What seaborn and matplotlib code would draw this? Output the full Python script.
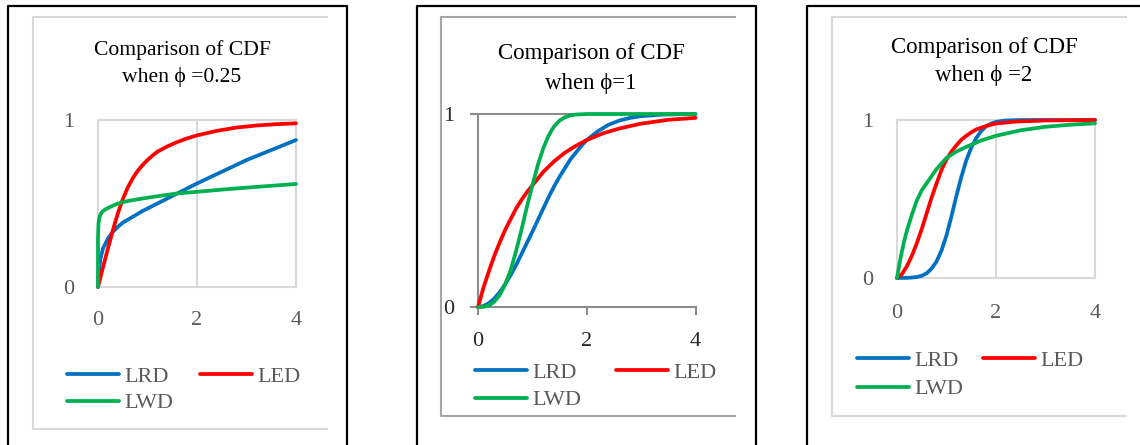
import numpy as np
import pandas as pd
import matplotlib
matplotlib.use("Agg")
import matplotlib.pyplot as plt
import seaborn as sns
from matplotlib.lines import Line2D

# ---------------- data ----------------
series_names = ["LRD", "LED", "LWD"]
series_colors = {"LRD": "#0070C0", "LED": "#FF0000", "LWD": "#00B050"}
x_ticks = [0, 2, 4]
y_ticks = [0, 1]
titles = ["Comparison of CDF\nwhen \u03d5 =0.25",
          "Comparison of CDF\nwhen \u03d5=1",
          "Comparison of CDF\nwhen \u03d5 =2"]

# Panel 1 : phi = 0.25
p1_lrd_x = [0, 0.01, 0.02, 0.05, 0.1, 0.2, 0.3, 0.4, 0.5, 0.7, 0.9, 1.2, 1.6, 2.0, 2.5, 3.0, 3.5, 4.0]
p1_lrd_y = [0, 0.07, 0.10, 0.17, 0.23, 0.29, 0.33, 0.36, 0.385, 0.42, 0.455, 0.50, 0.56, 0.62, 0.69, 0.76, 0.82, 0.88]
p1_led_x = [0, 0.1, 0.2, 0.3, 0.4, 0.5, 0.6, 0.7, 0.8, 0.9, 1.0, 1.1, 1.2, 1.4, 1.6, 1.8, 2.0, 2.4, 2.8, 3.2, 3.6, 4.0]
p1_led_y = [0, 0.117, 0.23, 0.34, 0.44, 0.525, 0.595, 0.65, 0.695, 0.73, 0.76, 0.787, 0.81, 0.842, 0.868, 0.89, 0.908, 0.935, 0.955, 0.967, 0.975, 0.98]
p1_lwd_x = [0, 0.0, 0.01, 0.03, 0.06, 0.1, 0.15, 0.25, 0.4, 0.6, 0.9, 1.3, 1.6, 2.0, 2.5, 3.0, 3.5, 4.0]
p1_lwd_y = [0, 0.30, 0.38, 0.42, 0.44, 0.455, 0.465, 0.48, 0.50, 0.515, 0.53, 0.548, 0.56, 0.57, 0.583, 0.595, 0.606, 0.617]

# Panel 2 : phi = 1
p2_lrd_x = [0, 0.1, 0.2, 0.3, 0.4, 0.5, 0.6, 0.7, 0.8, 0.9, 1.0, 1.1, 1.2, 1.3, 1.4, 1.5, 1.6, 1.7, 1.8, 1.9, 2.0, 2.2, 2.4, 2.6, 2.8, 3.0, 3.4, 4.0]
p2_lrd_y = [0, 0.005, 0.02, 0.044, 0.077, 0.118, 0.165, 0.217, 0.274, 0.333, 0.39, 0.45, 0.51, 0.57, 0.625, 0.675, 0.72, 0.765, 0.80, 0.835, 0.865, 0.91, 0.944, 0.966, 0.98, 0.989, 0.997, 1.0]
p2_led_x = [0, 0.1, 0.2, 0.3, 0.4, 0.5, 0.6, 0.7, 0.8, 0.9, 1.0, 1.2, 1.4, 1.6, 1.8, 2.0, 2.3, 2.6, 3.0, 3.5, 4.0]
p2_led_y = [0, 0.10, 0.185, 0.265, 0.335, 0.40, 0.455, 0.51, 0.555, 0.595, 0.63, 0.70, 0.755, 0.80, 0.835, 0.865, 0.90, 0.925, 0.95, 0.97, 0.98]
p2_lwd_x = [0, 0.1, 0.2, 0.3, 0.4, 0.5, 0.6, 0.7, 0.8, 0.9, 1.0, 1.1, 1.2, 1.3, 1.4, 1.5, 1.6, 1.7, 1.8, 2.0, 4.0]
p2_lwd_y = [0, 0.001, 0.008, 0.027, 0.062, 0.118, 0.19, 0.29, 0.40, 0.52, 0.63, 0.736, 0.822, 0.889, 0.936, 0.966, 0.983, 0.993, 0.997, 1.0, 1.0]

# Panel 3 : phi = 2
p3_lrd_x = [0, 0.2, 0.3, 0.4, 0.5, 0.6, 0.7, 0.8, 0.9, 1.0, 1.1, 1.2, 1.3, 1.4, 1.5, 1.6, 1.7, 1.8, 1.9, 2.0, 2.2, 2.5, 4.0]
p3_lrd_y = [0, 0.001, 0.003, 0.006, 0.014, 0.03, 0.06, 0.105, 0.175, 0.27, 0.39, 0.52, 0.64, 0.745, 0.825, 0.885, 0.93, 0.96, 0.977, 0.988, 0.997, 1.0, 1.0]
p3_led_x = [0, 0.1, 0.2, 0.3, 0.4, 0.5, 0.6, 0.7, 0.8, 0.9, 1.0, 1.1, 1.2, 1.3, 1.4, 1.5, 1.6, 1.8, 2.0, 2.4, 3.0, 4.0]
p3_led_y = [0, 0.025, 0.075, 0.14, 0.22, 0.31, 0.41, 0.51, 0.60, 0.685, 0.75, 0.80, 0.84, 0.875, 0.90, 0.922, 0.94, 0.962, 0.978, 0.99, 0.997, 1.0]
p3_lwd_x = [0, 0.05, 0.1, 0.15, 0.2, 0.3, 0.4, 0.5, 0.6, 0.8, 1.0, 1.2, 1.4, 1.7, 2.0, 2.5, 3.0, 3.5, 4.0]
p3_lwd_y = [0, 0.09, 0.17, 0.24, 0.30, 0.40, 0.49, 0.555, 0.60, 0.69, 0.76, 0.80, 0.83, 0.87, 0.90, 0.935, 0.957, 0.97, 0.979]

panels_data = [
    [(p1_lrd_x, p1_lrd_y), (p1_led_x, p1_led_y), (p1_lwd_x, p1_lwd_y)],
    [(p2_lrd_x, p2_lrd_y), (p2_led_x, p2_led_y), (p2_lwd_x, p2_lwd_y)],
    [(p3_lrd_x, p3_lrd_y), (p3_led_x, p3_led_y), (p3_lwd_x, p3_lwd_y)],
]

# ---------------- styling ----------------
sns.set_theme(style="white")
plt.rcParams["font.family"] = ["Liberation Serif", "DejaVu Serif"]

W, H = 1140, 445
fig = plt.figure(figsize=(W / 100, H / 100), dpi=100)
fig.patch.set_facecolor("white")


def fx(px):
    return px / W


def fy(py):
    return 1 - py / H


def fig_line(xs, ys, color, lw):
    fig.add_artist(Line2D([fx(v) for v in xs], [fy(v) for v in ys],
                          transform=fig.transFigure, color=color, lw=lw,
                          solid_capstyle="butt"))


# layout per panel (pixels)
layout = [
    dict(border=(8, 347), inner=(33, 328, 17, 429), inner_col="#d9d9d9",
         plot=(98, 296, 120, 287), title_x=182, title_y=(50, 77), title_fs=15.6,
         leg=(67, 366), leg_ls=0.28, leg_cs=1.18, style="light", xpad=17),
    dict(border=(417, 756), inner=(441, 736, 17, 416), inner_col="#a6a6a6",
         plot=(478, 695.5, 114, 307), title_x=591, title_y=(53, 83), title_fs=16.5,
         leg=(475, 362), leg_ls=0.33, leg_cs=1.54, style="dark", xpad=12),
    dict(border=(807, 1150), inner=(832, 1127, 17, 416), inner_col="#d9d9d9",
         plot=(897, 1095, 120, 278), title_x=984, title_y=(47, 76), title_fs=16.5,
         leg=(857, 350), leg_ls=0.37, leg_cs=0.86, style="light", xpad=19),
]

for i, (lay, pdata) in enumerate(zip(layout, panels_data)):
    # black outer border (left, top, right; extends below the image)
    bl, br = lay["border"]
    fig_line([bl, bl, br, br], [460, 6, 6, 460], "black", 1.6)
    # inner chart-area box (cut at the right)
    il, ir, it, ib = lay["inner"]
    fig_line([ir, il, il, ir], [it, it, ib, ib], lay["inner_col"], 1.5)

    # title
    l1, l2 = titles[i].split("\n")
    fig.text(fx(lay["title_x"]), fy(lay["title_y"][0]), l1, ha="center", va="center",
             fontsize=lay["title_fs"], color="black")
    fig.text(fx(lay["title_x"]), fy(lay["title_y"][1]), l2, ha="center", va="center",
             fontsize=lay["title_fs"], color="black")

    # plot area
    x0, x1, yt, yb = lay["plot"]
    ax = fig.add_axes([fx(x0), fy(yb), (x1 - x0) / W, (yb - yt) / H])
    ax.set_facecolor("none")

    frames = []
    for name, (xs, ys) in zip(series_names, pdata):
        frames.append(pd.DataFrame({"x": xs, "y": ys, "series": name}))
    df = pd.concat(frames, ignore_index=True)
    sns.lineplot(data=df, x="x", y="y", hue="series", hue_order=series_names,
                 palette=series_colors, estimator=None, sort=False, lw=2.7,
                 ax=ax, clip_on=False, zorder=3)
    for ln in ax.get_lines():
        ln.set_solid_joinstyle("round")
        ln.set_solid_capstyle("round")

    ax.set_xlim(0, 4)
    ax.set_ylim(0, 1)
    ax.set_xticks(x_ticks)
    ax.set_yticks(y_ticks)
    ax.set_xticklabels([str(t) for t in x_ticks])
    ax.set_yticklabels([str(t) for t in y_ticks])
    ax.set_xlabel("")
    ax.set_ylabel("")

    if lay["style"] == "light":
        for s in ax.spines.values():
            s.set_visible(True)
            s.set_color("#d9d9d9")
            s.set_linewidth(1.5)
        ax.grid(True, axis="x", color="#d9d9d9", lw=1.5)
        ax.grid(False, axis="y")
        ax.tick_params(axis="both", length=0, labelsize=16, labelcolor="#595959")
        ax.tick_params(axis="y", pad=17)
        ax.tick_params(axis="x", pad=lay["xpad"])
    else:
        ax.grid(False)
        for k in ["left", "bottom", "top"]:
            ax.spines[k].set_visible(True)
            ax.spines[k].set_color("#8c8c8c")
            ax.spines[k].set_linewidth(1.5)
        ax.spines["right"].set_visible(False)
        ax.tick_params(axis="both", direction="out", length=5.8, width=1.5,
                       color="#8c8c8c", labelsize=16, labelcolor="#262626")
        ax.tick_params(axis="y", pad=11, left=True)
        ax.tick_params(axis="x", pad=lay["xpad"], bottom=True)

    # legend
    handles, labels = ax.get_legend_handles_labels()
    hmap = dict(zip(labels, handles))
    order = ["LRD", "LWD", "LED"]  # column-major fill -> rows: LRD LED / LWD
    for h in hmap.values():
        h.set_linewidth(2.7)
    lx, ly = lay["leg"]
    ax.legend([hmap[k] for k in order], order, ncol=2, loc="upper left",
              bbox_to_anchor=(fx(lx), fy(ly)), bbox_transform=fig.transFigure,
              frameon=False, fontsize=16, handlelength=2.35, handletextpad=0.25,
              columnspacing=lay["leg_cs"], labelspacing=lay["leg_ls"], borderpad=0,
              borderaxespad=0, labelcolor="#595959")

fig.savefig("out.png", dpi=100, facecolor="white")
